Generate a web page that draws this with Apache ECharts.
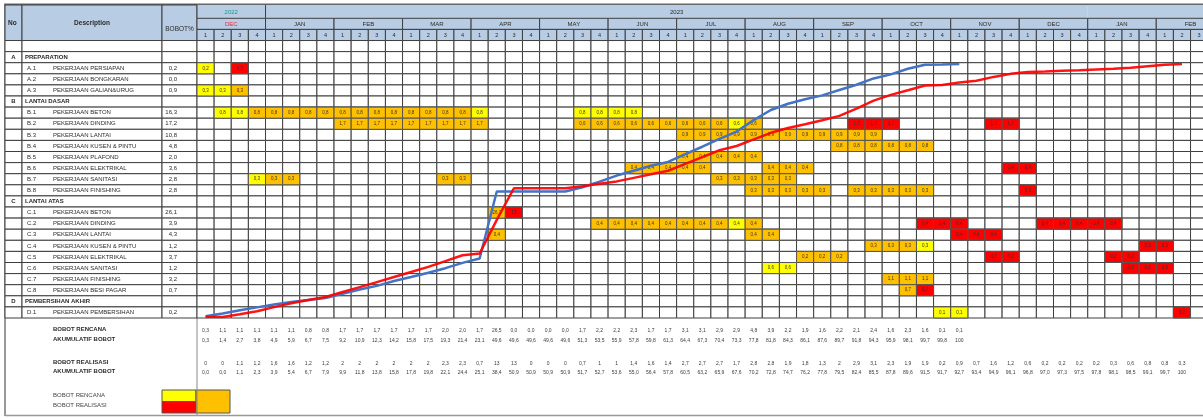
<!DOCTYPE html>
<html>
<head>
<meta charset="utf-8">
<style>
html, body { margin: 0; padding: 0; background: #fff; }
#main { width: 1203px; height: 418px; }
</style>
</head>
<body>
<div id="main"></div>
<script src="https://cdn.jsdelivr.net/npm/echarts/dist/echarts.min.js"></script>
<script>

var months = ['DEC', 'JAN', 'FEB', 'MAR', 'APR', 'MAY', 'JUN', 'JUL', 'AUG', 'SEP', 'OCT', 'NOV', 'DEC', 'JAN', 'FEB'];
var years = [['2022', 0, 1], ['2023', 1, 13], ['', 13, 15]]; // label, first month, end month
var weekNumbers = ['1', '2', '3', '4'];

var rowCodes = ['A', 'A.1', 'A.2', 'A.3', 'B', 'B.1', 'B.2', 'B.3', 'B.4', 'B.5', 'B.6', 'B.7', 'B.8',
    'C', 'C.1', 'C.2', 'C.3', 'C.4', 'C.5', 'C.6', 'C.7', 'C.8', 'D', 'D.1'];
var rowNames = ['PREPARATION', 'PEKERJAAN PERSIAPAN', 'PEKERJAAN BONGKARAN', 'PEKERJAAN GALIAN&URUG',
    'LANTAI DASAR', 'PEKERJAAN BETON', 'PEKERJAAN DINDING', 'PEKERJAAN LANTAI', 'PEKERJAAN KUSEN & PINTU',
    'PEKERJAAN PLAFOND', 'PEKERJAAN ELEKTRIKAL', 'PEKERJAAN SANITASI', 'PEKERJAAN FINISHING',
    'LANTAI ATAS', 'PEKERJAAN BETON', 'PEKERJAAN DINDING', 'PEKERJAAN LANTAI', 'PEKERJAAN KUSEN & PINTU',
    'PEKERJAAN ELEKTRIKAL', 'PEKERJAAN SANITASI', 'PEKERJAAN FINISHING', 'PEKERJAAN BESI PAGAR',
    'PEMBERSIHAN AKHIR', 'PEKERJAAN PEMBERSIHAN'];
var rowWeights = [null, 0.2, 0.0, 0.9, null, 16.3, 17.2, 10.8, 4.8, 2.0, 3.6, 2.8, 2.8,
    null, 26.1, 3.9, 4.3, 1.2, 3.7, 1.2, 3.2, 0.7, null, 0.2];

// [row, first week, last week, cell text]
var yellowCells = [
    ['A.1', 0, 0, '0,2'], ['A.3', 0, 1, '0,3'], ['B.1', 1, 2, '0,8'], ['B.1', 16, 16, '0,8'],
    ['B.1', 22, 25, '0,8'], ['B.2', 31, 31, '0,6'], ['B.7', 3, 3, '0,3'], ['C.2', 31, 31, '0,4'],
    ['C.4', 42, 42, '0,3'], ['C.6', 33, 34, '0,6'], ['D.1', 43, 44, '0,1']
];
var orangeCells = [
    ['A.3', 2, 2, '0,3'], ['B.1', 3, 15, '0,8'], ['B.2', 8, 16, '1,7'], ['B.2', 22, 30, '0,6'],
    ['B.2', 32, 32, '0,6'], ['B.3', 28, 39, '0,9'], ['B.4', 37, 42, '0,8'], ['B.5', 28, 32, '0,4'],
    ['B.6', 25, 29, '0,4'], ['B.6', 33, 35, '0,4'], ['B.7', 4, 5, '0,3'], ['B.7', 14, 15, '0,3'],
    ['B.7', 30, 34, '0,3'], ['B.8', 32, 36, '0,3'], ['B.8', 38, 42, '0,3'], ['C.1', 17, 17, '26,1'],
    ['C.2', 23, 30, '0,4'], ['C.2', 32, 32, '0,4'], ['C.3', 17, 17, '0,4'], ['C.3', 32, 33, '0,4'],
    ['C.4', 39, 41, '0,3'], ['C.5', 35, 37, '0,2'], ['C.7', 40, 42, '1,1'], ['C.8', 41, 41, '0,7']
];
var redCells = [
    ['A.1', 2, 2, '0,2'], ['B.2', 38, 40, '1,7'], ['B.2', 46, 47, '1,7'], ['B.6', 47, 48, '0,4'],
    ['B.8', 48, 48, '0,3'], ['C.1', 18, 18, '13'], ['C.2', 42, 44, '0,4'], ['C.2', 49, 53, '0,4'],
    ['C.3', 44, 46, '0,4'], ['C.4', 55, 56, '0,3'], ['C.5', 46, 47, '0,2'], ['C.5', 53, 54, '0,2'],
    ['C.6', 54, 56, '0,6'], ['C.8', 42, 42, '0,7'], ['D.1', 57, 57, '0,2']
];

var planWeekly = [0.3, 1.1, 1.1, 1.1, 1.1, 1.1, 0.8, 0.8, 1.7, 1.7, 1.7, 1.7, 1.7, 1.7, 2.0, 2.0, 1.7, 26.5,
    0, 0, 0, 0, 1.7, 2.2, 2.2, 2.3, 1.7, 1.7, 3.1, 3.1, 2.9, 2.9, 4.8, 3.9, 2.2, 1.9, 1.6, 2.2, 2.1, 2.4,
    1.6, 2.3, 1.6, 0.1, 0.1];
var planCumulative = [0.3, 1.4, 2.7, 3.8, 4.9, 5.9, 6.7, 7.5, 9.2, 10.9, 12.3, 14.2, 15.8, 17.5, 19.3, 21.4,
    23.1, 49.6, 49.6, 49.6, 49.6, 49.6, 51.3, 53.5, 55.9, 57.8, 59.8, 61.3, 64.4, 67.3, 70.4, 73.3, 77.8,
    81.8, 84.3, 86.1, 87.6, 89.7, 91.8, 94.3, 95.9, 98.1, 99.7, 99.8, 100];
var actualWeekly = [0, 0, 1.1, 1.2, 1.6, 1.6, 1.2, 1.2, 2, 2, 2, 2, 2, 2, 2.3, 2.3, 0.7, 13, 13, 0, 0, 0,
    0.7, 1, 1, 1.4, 1.6, 1.4, 2.7, 2.7, 2.7, 1.7, 2.8, 2.8, 1.9, 1.8, 1.3, 2, 2.9, 3.1, 2.3, 1.9, 1.9,
    0.2, 0.9, 0.7, 1.6, 1.2, 0.6, 0.2, 0.2, 0.2, 0.2, 0.3, 0.6, 0.8, 0.8, 0.3];
var actualCumulative = [0, 0, 1.1, 2.3, 3.9, 5.4, 6.7, 7.9, 9.9, 11.8, 13.8, 15.8, 17.8, 19.8, 22.1, 24.4,
    25.1, 38.4, 50.9, 50.9, 50.9, 50.9, 51.7, 52.7, 53.6, 55.0, 56.4, 57.8, 60.5, 63.2, 65.9, 67.6, 70.2,
    72.8, 74.7, 76.2, 77.8, 79.5, 82.4, 85.5, 87.8, 89.6, 91.5, 91.7, 92.7, 93.4, 94.9, 96.1, 96.8, 97.0,
    97.3, 97.5, 97.8, 98.1, 98.5, 99.1, 99.7, 100];

// ---- layout / style ----
var FONT = 'Liberation Sans, Arial, sans-serif';
var HEADER_BLUE = '#B8CCE4';
var LINE = '#3f3f3f';
var TEXT = '#2b2b2b';
var YELLOW = '#FFFF00', ORANGE = '#FFC000', RED = '#FF0000';
var WEEKS = 60;
var YEAR_TOP = -0.2;   // year row is a little taller
var FIRST_ROW = 4;     // year, month, week and a blank row sit above the data rows
var TABLE_TOP = 5, TABLE_H = 313, WEEK_LEFT = 197, WEEK_W = 17.13 * WEEKS;
var SUM_TOP = 318, SUM_H = 97;
var summaryY = [1.3, 2.3, 4.7, 5.6];
var leftCols = [[0, 17], [17, 157], [157, 192]];
var leftHeaders = ['No', 'Description', 'BOBOT%'];

function box(api, x0, y0, x1, y1) {
    var a = api.coord([x0, y0]), b = api.coord([x1, y1]);
    return { x: a[0], y: a[1], width: b[0] - a[0], height: b[1] - a[1] };
}
function fmt(v) { return v === 100 ? '100' : v.toFixed(1).replace('.', ','); }
function fmtGeneral(v) { return String(v).replace('.', ','); }
function label(x, y, text, size, opts) {
    opts = opts || {};
    return {
        type: 'text',
        style: {
            x: x, y: y, text: text, fontSize: size, fontFamily: FONT,
            fontWeight: opts.bold ? 'bold' : 'normal', fill: opts.color || TEXT,
            align: opts.align || 'center', verticalAlign: 'middle'
        }
    };
}
function seg(x1, y1, x2, y2) {
    return { type: 'line', shape: { x1: x1, y1: y1, x2: x2, y2: y2 }, style: { stroke: LINE, lineWidth: 1 } };
}

// header cells of the week area: [from week, to week, header row, text, colour]
var headerCells = [];
years.forEach(function (y, i) {
    headerCells.push([y[1] * 4, y[2] * 4, 0, y[0], i === 0 ? '#169c8c' : TEXT]);
});
months.forEach(function (m, i) {
    headerCells.push([i * 4, i * 4 + 4, 1, m, i === 0 ? '#e8283c' : TEXT]);
});
for (var w = 0; w < WEEKS; w++) {
    headerCells.push([w, w + 1, 2, weekNumbers[w % 4], TEXT]);
}

var bodyCells = [];
for (var r = 3; r < FIRST_ROW + rowCodes.length; r++) {
    for (var k = 0; k < WEEKS; k++) bodyCells.push([k, r]);
}

var coloured = [];
[[YELLOW, yellowCells], [ORANGE, orangeCells], [RED, redCells]].forEach(function (kind) {
    kind[1].forEach(function (c) {
        var row = FIRST_ROW + rowCodes.indexOf(c[0]);
        for (var wk = c[1]; wk <= c[2]; wk++) coloured.push([wk, row, kind[0], c[3]]);
    });
});

var leftRows = [[3, -1]].concat(rowCodes.map(function (c, i) { return [FIRST_ROW + i, i]; }));

var summaryRows = [
    planWeekly.map(fmt), planCumulative.map(fmt),
    actualWeekly.map(fmtGeneral), actualCumulative.map(fmt)
];
var summaryCells = [];
summaryRows.forEach(function (vals, li) {
    vals.forEach(function (t, i) { summaryCells.push([i, li, t]); });
});

var chart = echarts.init(document.getElementById('main'));

var grids = [
    { left: 5, top: TABLE_TOP, width: 192, height: TABLE_H },
    { left: WEEK_LEFT, top: TABLE_TOP, width: WEEK_W, height: TABLE_H },
    { left: WEEK_LEFT, top: SUM_TOP, width: WEEK_W, height: SUM_H },
    { left: WEEK_LEFT, top: 64, width: WEEK_W, height: 253 }
].map(function (g) { g.outerBoundsMode = 'none'; g.containLabel = false; return g; });

var summaryLabels = ['BOBOT RENCANA', 'AKUMULATIF BOBOT', 'BOBOT REALISASI', 'AKUMULATIF BOBOT'];
var graphics = summaryLabels.map(function (t, i) {
    return {
        type: 'text', left: 53, top: SUM_TOP + summaryY[i] * SUM_H / 10 - 4,
        style: { text: t, fontSize: 6, fontWeight: 'bold', fontFamily: FONT, fill: TEXT }
    };
});
graphics.push(
    { type: 'text', left: 53, top: 392, style: { text: 'BOBOT RENCANA', fontSize: 6, fontFamily: FONT, fill: '#444' } },
    { type: 'text', left: 53, top: 402, style: { text: 'BOBOT REALISASI', fontSize: 6, fontFamily: FONT, fill: '#444' } },
    { type: 'rect', shape: { x: 162, y: 390, width: 34, height: 11.5 }, style: { fill: YELLOW, stroke: '#555', lineWidth: 1 } },
    { type: 'rect', shape: { x: 162, y: 401.5, width: 34, height: 11.5 }, style: { fill: RED, stroke: '#555', lineWidth: 1 } },
    { type: 'rect', shape: { x: 196, y: 390, width: 34, height: 23 }, style: { fill: ORANGE, stroke: '#555', lineWidth: 1 } },
    { type: 'line', shape: { x1: 4, y1: 4.5, x2: 1203, y2: 4.5 }, style: { stroke: '#666', lineWidth: 2 } },
    { type: 'line', shape: { x1: 5, y1: 4, x2: 5, y2: 416 }, style: { stroke: '#777', lineWidth: 1.5 } },
    { type: 'line', shape: { x1: 5, y1: 415.5, x2: 1203, y2: 415.5 }, style: { stroke: '#999', lineWidth: 1.5 } },
    { type: 'line', shape: { x1: WEEK_LEFT, y1: SUM_TOP, x2: WEEK_LEFT, y2: 415 }, style: { stroke: '#888', lineWidth: 1 } }
);

chart.setOption({
    animation: false,
    grid: grids,
    xAxis: [
        { gridIndex: 0, type: 'value', min: 0, max: 192, show: false },
        { gridIndex: 1, type: 'value', min: 0, max: WEEKS, show: false },
        { gridIndex: 2, type: 'value', min: 0, max: WEEKS, show: false },
        { gridIndex: 3, type: 'value', min: 0, max: WEEKS, show: false }
    ],
    yAxis: [
        { gridIndex: 0, type: 'value', min: YEAR_TOP, max: 28, inverse: true, show: false },
        { gridIndex: 1, type: 'value', min: YEAR_TOP, max: 28, inverse: true, show: false },
        { gridIndex: 2, type: 'value', min: 0, max: 10, inverse: true, show: false },
        { gridIndex: 3, type: 'value', min: 0, max: 100, show: false }
    ],
    graphic: graphics,
    series: [
        {
            // left table header
            type: 'custom', xAxisIndex: 0, yAxisIndex: 0, silent: true,
            data: leftHeaders.map(function (h, i) { return [i, 0]; }),
            renderItem: function (params, api) {
                var i = params.dataIndex, c = leftCols[i];
                var b = box(api, c[0], YEAR_TOP, c[1], 3);
                var ty = i === 2 ? b.y + b.height * 0.68 : b.y + b.height * 0.5;
                var tx = i === 0 ? b.x + 3 : b.x + b.width / 2;
                return {
                    type: 'group', children: [
                        { type: 'rect', shape: b, style: { fill: HEADER_BLUE, stroke: LINE, lineWidth: 1 } },
                        label(tx, ty, leftHeaders[i], 6.5, { bold: i < 2, align: i === 0 ? 'left' : 'center' })
                    ]
                };
            }
        },
        {
            // left table rows
            type: 'custom', xAxisIndex: 0, yAxisIndex: 0, silent: true,
            data: leftRows,
            renderItem: function (params, api) {
                var row = leftRows[params.dataIndex][0], idx = leftRows[params.dataIndex][1];
                var children = leftCols.map(function (c) {
                    return { type: 'rect', shape: box(api, c[0], row, c[1], row + 1), style: { fill: '#fff', stroke: LINE, lineWidth: 1 } };
                });
                if (idx >= 0) {
                    var code = rowCodes[idx];
                    var y = api.coord([0, row + 0.5])[1];
                    var x = function (v) { return api.coord([v, row])[0]; };
                    if (code.indexOf('.') < 0) {
                        children.push(label(x(8.5), y, code, 6, { bold: true }));
                        children.push(label(x(20), y, rowNames[idx], 6, { bold: true, align: 'left' }));
                    } else {
                        children.push(label(x(22), y, code, 6, { align: 'left' }));
                        children.push(label(x(48), y, rowNames[idx], 6, { align: 'left' }));
                        children.push(label(x(172), y, fmt(rowWeights[idx]), 6, { align: 'right' }));
                    }
                }
                return { type: 'group', children: children };
            }
        },
        {
            // week grid body
            type: 'custom', xAxisIndex: 1, yAxisIndex: 1, silent: true,
            data: bodyCells,
            renderItem: function (params, api) {
                var d = bodyCells[params.dataIndex];
                return { type: 'rect', shape: box(api, d[0], d[1], d[0] + 1, d[1] + 1), style: { fill: '#fff', stroke: LINE, lineWidth: 1 } };
            }
        },
        {
            // week area header
            type: 'custom', xAxisIndex: 1, yAxisIndex: 1, silent: true,
            data: headerCells.map(function (d) { return [d[0], d[2]]; }),
            renderItem: function (params, api) {
                var d = headerCells[params.dataIndex];
                var top = d[2] === 0 ? YEAR_TOP : d[2];
                var b = box(api, d[0], top, d[1], d[2] + 1);
                var children = [
                    { type: 'rect', shape: b, style: { fill: HEADER_BLUE, stroke: d[2] === 0 ? null : LINE, lineWidth: 1 } },
                    label(b.x + b.width / 2, b.y + b.height / 2 + 0.5, d[3], d[2] === 2 ? 5.5 : 6, { color: d[4] })
                ];
                if (d[2] === 0 && d[3]) {
                    // merged year cells only show their left edge
                    children.push(seg(b.x, b.y, b.x, b.y + b.height));
                }
                return { type: 'group', children: children };
            }
        },
        {
            // plan / actual cells
            type: 'custom', xAxisIndex: 1, yAxisIndex: 1, silent: true,
            data: coloured.map(function (d) { return [d[0], d[1]]; }),
            renderItem: function (params, api) {
                var d = coloured[params.dataIndex];
                var b = box(api, d[0], d[1], d[0] + 1, d[1] + 1);
                return {
                    type: 'group', children: [
                        { type: 'rect', shape: b, style: { fill: d[2], stroke: '#555', lineWidth: 1 } },
                        label(b.x + b.width / 2, b.y + b.height / 2, d[3], 4.5, { color: '#333' })
                    ]
                };
            }
        },
        {
            // weekly and cumulative figures under the table
            type: 'custom', xAxisIndex: 2, yAxisIndex: 2, silent: true,
            data: summaryCells.map(function (d) { return [d[0], d[1]]; }),
            renderItem: function (params, api) {
                var d = summaryCells[params.dataIndex];
                var p = api.coord([d[0] + 0.5, summaryY[d[1]]]);
                return label(p[0], p[1], d[2], 5, { color: '#3a3a3a' });
            }
        },
        {
            name: 'RENCANA', type: 'line', xAxisIndex: 3, yAxisIndex: 3, silent: true, z: 10,
            symbol: 'none',
            data: planCumulative.map(function (v, i) { return [i + 0.5, v]; }),
            lineStyle: { color: '#4472C4', width: 2.5 }
        },
        {
            name: 'REALISASI', type: 'line', xAxisIndex: 3, yAxisIndex: 3, silent: true, z: 11,
            symbol: 'none',
            data: actualCumulative.map(function (v, i) { return [i + 0.5, v]; }),
            lineStyle: { color: '#FF0000', width: 2.5, opacity: 0.92 }
        }
    ]
});

</script>
</body>
</html>
